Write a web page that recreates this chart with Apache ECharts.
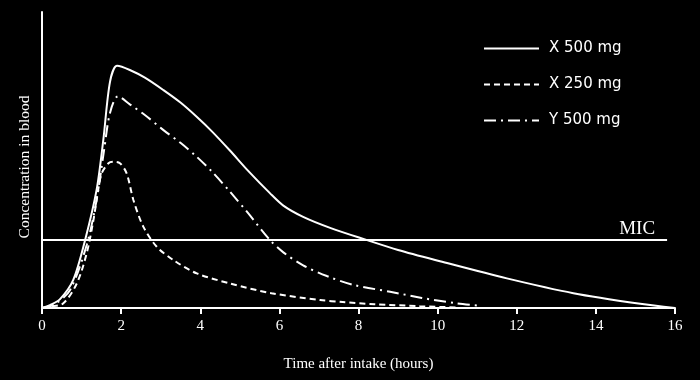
<!DOCTYPE html>
<html><head><meta charset="utf-8">
<script src="https://cdn.jsdelivr.net/npm/echarts@6/dist/echarts.min.js"></script>
<style>html,body{margin:0;padding:0;background:#000}#c{width:700px;height:380px}</style>
</head><body><div id="c"></div>
<script>
const xTicks = [0, 2, 4, 6, 8, 10, 12, 14, 16];
const micLevel = 23;
const seriesNames = ['X 500 mg', 'X 250 mg', 'Y 500 mg'];
const x500 = [[0,0],[0.2,1.0],[0.45,2.9],[0.79,9.5],[1.09,23.0],[1.38,39.9],[1.55,56.8],[1.72,76.5],[1.9,81.8],[2.22,80.4],[2.6,77.8],[3.07,73.6],[3.5,69.4],[3.91,64.6],[4.3,59.6],[4.75,53.2],[5.2,46.5],[5.76,38.8],[6.1,34.6],[6.6,30.8],[7.3,27.0],[8.2,23.0],[9.0,19.6],[10.06,15.8],[11.75,10.0],[13.43,5.0],[15.12,1.4],[16,0]];
const x250 = [[0,0],[0.2,0.44],[0.54,1.6],[0.88,8.3],[1.13,18.5],[1.3,29.7],[1.42,39.9],[1.51,45.5],[1.68,48.9],[1.8,49.4],[1.97,48.9],[2.14,45.5],[2.31,36.5],[2.56,27.5],[2.9,20.7],[3.32,16.2],[3.91,11.7],[4.75,8.3],[5.8,5.0],[7.03,2.7],[7.6,2.0],[8.4,1.3],[9.55,0.6],[10.46,0.2]];
const y500 = [[0,0],[0.33,1.35],[0.71,6.1],[1.13,21.3],[1.38,36.5],[1.57,53.4],[1.72,66],[1.92,71.5],[2.22,68.8],[2.6,65.2],[3.07,60.1],[3.5,55.8],[3.91,51.1],[4.3,46],[4.75,39.3],[5.2,32.2],[5.76,23.0],[6.1,18.8],[6.6,14.4],[7.2,10.8],[7.87,7.8],[8.8,5.5],[9.6,3.4],[10.48,1.6],[11.1,0.7]];

const chart = echarts.init(document.getElementById('c'));
const lw = 2;
chart.setOption({
  backgroundColor: '#000',
  animation: false,
  grid: { left: 42, right: 25, top: 12, bottom: 72 },
  legend: {
    orient: 'vertical', left: 478, top: 36, itemWidth: 55, itemHeight: 14, itemGap: 21,
    itemStyle: { opacity: 0 },
    textStyle: { color: '#fff', fontFamily: 'DejaVu Sans', fontSize: 15, padding: [0,0,0,5] },
    data: seriesNames
  },
  xAxis: {
    type: 'value', min: 0, max: 16, interval: 2,
    name: 'Time after intake (hours)', nameLocation: 'middle', nameGap: 49,
    nameTextStyle: { color: '#fff', fontFamily: 'Liberation Serif', fontSize: 15 },
    axisLine: { lineStyle: { color: '#fff', width: 2 } },
    axisTick: { length: 6, lineStyle: { color: '#fff', width: 2 } },
    axisLabel: { color: '#fff', fontFamily: 'Liberation Serif', fontSize: 15, margin: 11,
      formatter: v => xTicks.includes(v) ? String(v) : '' },
    splitLine: { show: false }
  },
  yAxis: {
    type: 'value', min: 0, max: 100,
    name: 'Concentration in blood', nameLocation: 'middle', nameGap: 9,
    nameTextStyle: { color: '#fff', fontFamily: 'Liberation Serif', fontSize: 15.5, padding: [0,0,0,-14] },
    axisLine: { show: true, lineStyle: { color: '#fff', width: 2 } },
    axisTick: { show: false }, axisLabel: { show: false }, splitLine: { show: false }
  },
  series: [
    { name: seriesNames[0], type: 'line', data: x500, symbol: 'none', smooth: 0.3, color: '#fff',
      lineStyle: { color: '#fff', width: lw, type: 'solid' },
      markLine: { silent: true, symbol: 'none', animation: false,
        lineStyle: { color: '#fff', width: 2, type: 'solid' },
        label: { show: true, position: 'insideEndTop', formatter: 'MIC', color: '#fff',
          fontFamily: 'Liberation Serif', fontSize: 19, distance: [12, 1] },
        data: [[{ coord: [0, micLevel] }, { coord: [15.8, micLevel] }]] } },
    { name: seriesNames[1], type: 'line', data: x250, symbol: 'none', smooth: 0.3, color: '#fff',
      lineStyle: { color: '#fff', width: lw, type: [6, 4] } },
    { name: seriesNames[2], type: 'line', data: y500, symbol: 'none', smooth: 0.3, color: '#fff',
      lineStyle: { color: '#fff', width: lw, type: [12, 5, 2, 5] } }
  ]
});
</script></body></html>
